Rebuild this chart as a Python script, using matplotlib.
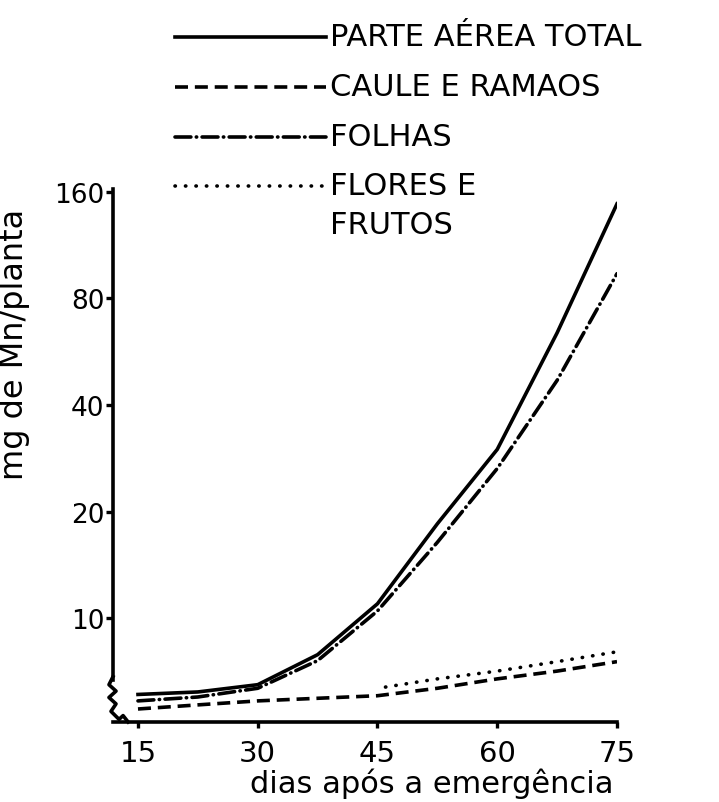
import numpy as np
import matplotlib
matplotlib.use('Agg')
import matplotlib.pyplot as plt
from matplotlib.lines import Line2D
from matplotlib.ticker import FixedLocator, FixedFormatter, NullLocator

# dados (mg de Mn por planta)
dias = [15, 22.5, 30, 37.5, 45, 52.5, 60, 67.5, 75]
parte_aerea = [6.1, 6.2, 6.5, 7.9, 11.0, 18.5, 30.0, 64.0, 148]
folhas = [5.85, 6.0, 6.35, 7.6, 10.5, 16.4, 26.5, 47.0, 94]
caule = [5.55, 5.7, 5.85, 5.95, 6.05, 6.35, 6.75, 7.1, 7.55]
dias_flores = [46, 52.5, 60, 67.5, 75]
flores = [6.4, 6.75, 7.1, 7.55, 8.05]

xticks = [15, 30, 45, 60, 75]
yticks = [10, 20, 40, 80, 160]
series_labels = ['PARTE AÉREA TOTAL', 'CAULE E RAMAOS', 'FOLHAS', 'FLORES E\nFRUTOS']

plt.rcParams['font.family'] = ['DejaVu Sans']

fig = plt.figure(figsize=(7.19, 8.03), dpi=100)
ax = fig.add_axes([113 / 719, 1 - 723 / 803, (617 - 113) / 719, (723 - 190) / 803])

lw = 2.6
styles = [
    dict(linestyle='-'),
    dict(linestyle=(0, (3.6, 1.9))),
    dict(linestyle=(0, (4.4, 1.5, 0.1, 1.5)), dash_capstyle='round'),
    dict(linestyle=(0, (0.1, 2.8)), dash_capstyle='round'),
]

ax.plot(dias, parte_aerea, color='black', lw=lw, solid_joinstyle='round', **styles[0])
ax.plot(dias, caule, color='black', lw=lw, **styles[1])
ax.plot(dias, folhas, color='black', lw=lw, **styles[2])
ax.plot(dias_flores, flores, color='black', lw=lw, **styles[3])

ax.set_yscale('log', base=2)
ax.set_ylim(5.1, 163)
ax.set_xlim(11.87, 75)
ax.yaxis.set_major_locator(FixedLocator(yticks))
ax.yaxis.set_major_formatter(FixedFormatter([str(v) for v in yticks]))
ax.yaxis.set_minor_locator(NullLocator())
ax.set_xticks(xticks)
ax.set_xticklabels([str(v) for v in xticks])

for s in ['top', 'right']:
    ax.spines[s].set_visible(False)
for s in ['left', 'bottom']:
    ax.spines[s].set_linewidth(2.6)
ax.spines['left'].set_bounds(6.7, 163)

ax.tick_params(axis='y', direction='out', length=5, width=2.4, labelsize=19, pad=1)
ax.tick_params(axis='x', direction='out', length=4, width=2.4, labelsize=21, pad=8)

# quebra do eixo (zigue-zague)
zx = [0, -0.008, 0.006, -0.008, 0.006, -0.004, 0.012, 0.02, 0.03]
zy = [0.085, 0.07, 0.058, 0.046, 0.034, 0.02, 0.005, 0.012, 0.0]
ax.plot(zx, zy, transform=ax.transAxes, color='black', lw=2.6, clip_on=False,
        solid_joinstyle='round')

ax.set_ylabel('mg de Mn/planta', fontsize=23)
ax.yaxis.set_label_coords(-0.165, 0.71)
ax.set_xlabel('dias após a emergência', fontsize=22, labelpad=0)
ax.xaxis.set_label_coords(0.633, -0.085)

# legenda desenhada acima do grafico
rows_y = [38, 88, 138, 187]
for st, lab, yy in zip(styles, series_labels, rows_y):
    fy = 1 - yy / 803
    fig.add_artist(Line2D([175 / 719, 326 / 719], [fy, fy], color='black', lw=lw,
                          transform=fig.transFigure, **st))
    if '\n' in lab:
        fig.text(330 / 719, 1 - (yy - 15) / 803, lab, fontsize=22, va='top',
                 ha='left', linespacing=1.45)
    else:
        fig.text(330 / 719, fy, lab, fontsize=22, va='center', ha='left')

fig.savefig('out.png', dpi=100, facecolor='white')
